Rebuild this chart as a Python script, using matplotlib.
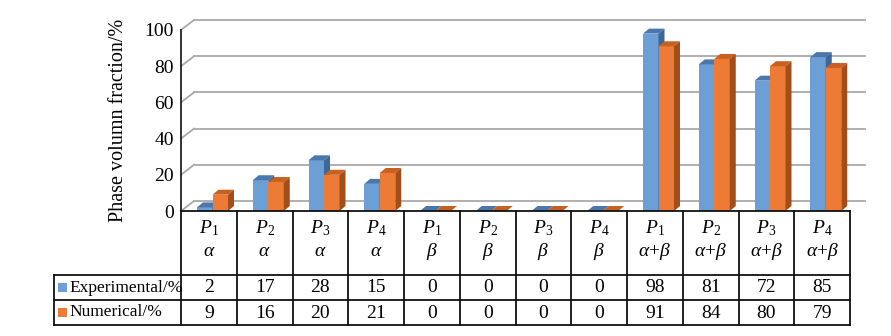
import numpy as np
import matplotlib
matplotlib.use("Agg")
import matplotlib.pyplot as plt
from matplotlib.patches import Polygon
from matplotlib.transforms import offset_copy

plt.rcParams['font.family'] = ['Liberation Serif', 'DejaVu Serif']
plt.rcParams['mathtext.fontset'] = 'custom'
plt.rcParams['mathtext.rm'] = 'Liberation Serif'
plt.rcParams['mathtext.it'] = 'Liberation Serif:italic'

# Data
samples = ['1', '2', '3', '4'] * 3
phases = [r'$\alpha$'] * 4 + [r'$\beta$'] * 4 + [r'$\alpha$+$\beta$'] * 4
experimental = [2, 17, 28, 15, 0, 0, 0, 0, 98, 81, 72, 85]
numerical = [9, 16, 20, 21, 0, 0, 0, 0, 91, 84, 80, 79]
yticks = [0, 20, 40, 60, 80, 100]

blue = ('#6b9fd6', '#4a78ad', '#3d6699')     # front, top, side
orange = ('#ee7b35', '#c8601f', '#a24e1a')

W, H = 891, 336
fig = plt.figure(figsize=(W / 100, H / 100), dpi=100)

# pixel layout
x0, x1 = 181, 850
y_floor, y_top = 211, 30
ncat = len(experimental)
px_x = (x1 - x0) / ncat
px_y = (y_floor - y_top) / 100.0

ax = fig.add_axes([x0 / W, (H - y_floor) / H, (x1 - x0) / W, (y_floor - y_top) / H])
ax.set_xlim(0, ncat)
ax.set_ylim(0, 100)
for s in ['top', 'right', 'bottom']:
    ax.spines[s].set_visible(False)
ax.spines['left'].set_linewidth(1.3)
ax.spines['left'].set_color('#222222')
ax.set_xticks([])
ax.set_yticks(yticks)
ax.tick_params(axis='y', length=0, pad=5, labelsize=14)
ax.set_ylabel('Phase volumn fraction/%', fontsize=14.5)
ax.yaxis.set_label_coords(-0.079, 0.5)

# back wall gridlines with slanted floor edge
back = offset_copy(ax.transData, fig=fig, x=13, y=10, units='dots')
bx_end = ncat + 2 / px_x
for v in yticks:
    ax.plot([0, 13 / px_x], [v, v + 10 / px_y], color='#a9a9a9', lw=1.3,
            clip_on=False, zorder=1)
    ax.plot([0, bx_end], [v, v], color='#a9a9a9', lw=1.3, transform=back,
            clip_on=False, zorder=1)

# 3D-looking bars
dx, dy = 6 / px_x, 5 / px_y
bw = 15.5 / px_x
start = 16 / px_x


def bar3d(x, h, cols, z):
    front, top, side = cols
    ax.bar(x, h, width=bw, align='edge', color=front, zorder=z, clip_on=False)
    ax.add_patch(Polygon([(x, h), (x + bw, h), (x + bw + dx, h + dy), (x + dx, h + dy)],
                         closed=True, facecolor=top, edgecolor='none', zorder=z,
                         clip_on=False))
    ax.add_patch(Polygon([(x + bw, 0), (x + bw + dx, dy), (x + bw + dx, h + dy), (x + bw, h)],
                         closed=True, facecolor=side, edgecolor='none', zorder=z,
                         clip_on=False))


for i in range(ncat):
    bar3d(i + start, experimental[i], blue, 3)
    bar3d(i + start + bw, numerical[i], orange, 4)

# data table under the chart
lx = 54
row_h = [64, 25, 25]
tab_bottom = y_floor + sum(row_h)
tax = fig.add_axes([lx / W, (H - tab_bottom) / H, (x1 - lx) / W, (tab_bottom - y_floor) / H])
left = -(x0 - lx) / px_x
tax.set_xlim(left, ncat)
tax.set_ylim(sum(row_h), 0)
tax.axis('off')

lc = '#111111'
lw = 1.3
tax.plot([0, ncat], [0, 0], color=lc, lw=lw, clip_on=False)
for yy in [row_h[0], row_h[0] + row_h[1], sum(row_h)]:
    tax.plot([left, ncat], [yy, yy], color=lc, lw=lw, clip_on=False)
for i in range(ncat + 1):
    tax.plot([i, i], [0, sum(row_h)], color=lc, lw=lw, clip_on=False)
tax.plot([left, left], [row_h[0], sum(row_h)], color=lc, lw=lw, clip_on=False)

for i in range(ncat):
    c = i + 0.5
    tax.text(c, 17, r'$P_{%s}$' % samples[i], ha='center', va='center', fontsize=14)
    tax.text(c, 41, phases[i], ha='center', va='center', fontsize=14)
    tax.text(c, 76, str(experimental[i]), ha='center', va='center', fontsize=14)
    tax.text(c, 102, str(numerical[i]), ha='center', va='center', fontsize=14)

# legend keys in the row headers
for yc, col, name in [(76.5, blue[0], 'Experimental/%'), (101.5, orange[0], 'Numerical/%')]:
    tax.add_patch(Polygon([(left + 4 / px_x, yc - 4.5), (left + 13 / px_x, yc - 4.5),
                           (left + 13 / px_x, yc + 4.5), (left + 4 / px_x, yc + 4.5)],
                          closed=True, facecolor=col, edgecolor='none'))
    tax.text(left + 15 / px_x, yc, name, ha='left', va='center', fontsize=12.5)

fig.savefig('out.png', dpi=100)
